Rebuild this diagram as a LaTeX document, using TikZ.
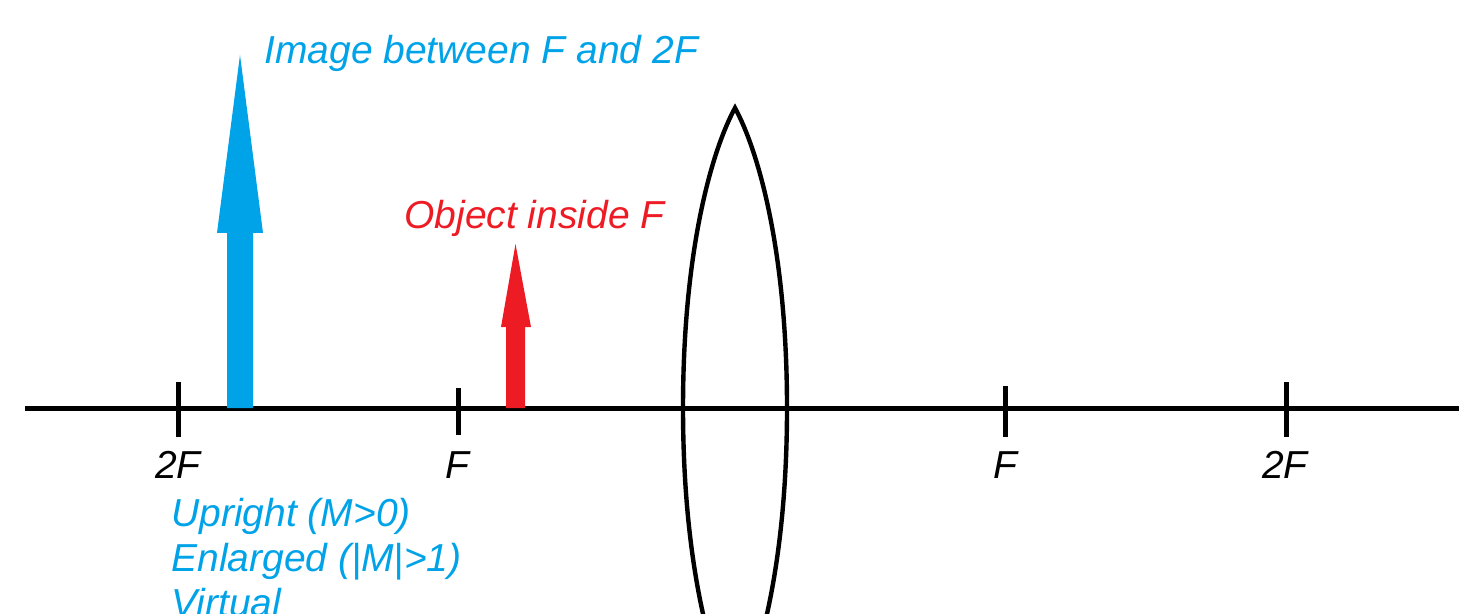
\documentclass[tikz,border=0pt]{standalone}
\usepackage{fontspec}
\setmainfont{Liberation Sans}
\definecolor{pblue}{RGB}{0,162,232}
\definecolor{pred}{RGB}{237,28,36}
\begin{document}
\begin{tikzpicture}[x=0.5pt,y=-0.5pt,
  txt/.style={inner sep=0pt,font=\fontsize{19.5pt}{22.5pt}\selectfont\itshape},
  tick/.style={line width=2.5pt,draw=black},
  axisline/.style={line width=2.5pt,draw=black},
  lensline/.style={line width=2.2pt,draw=black},
  fatarrow/.style={draw=none}]
\useasboundingbox (0,0) rectangle (1459,614);
\clip (0,0) rectangle (1459,614);
% axis
\coordinate (axL) at (25,408);
\coordinate (axR) at (1462,408);
\draw[axisline] (axL) -- (axR);
% ticks
\coordinate (t1a) at (178,382); \coordinate (t1b) at (178,437);
\coordinate (t2a) at (458,388); \coordinate (t2b) at (458,435);
\coordinate (t3a) at (1005,386); \coordinate (t3b) at (1005,437);
\coordinate (t4a) at (1286,382); \coordinate (t4b) at (1286,437);
\draw[tick] (t1a) -- (t1b);
\draw[tick] (t2a) -- (t2b);
\draw[tick] (t3a) -- (t3b);
\draw[tick] (t4a) -- (t4b);
% lens
\coordinate (ltop) at (735,108);
\coordinate (lbot) at (735,708);
\draw[lensline] (ltop) .. controls (712,150) and (683,250) .. (683,408)
  .. controls (683,566) and (712,666) .. (lbot)
  .. controls (758,666) and (787,566) .. (787,408)
  .. controls (787,250) and (758,150) .. (ltop) -- cycle;
% image arrow (blue)
\fill[pblue,fatarrow] (227,408) -- (227,233) -- (217,233) -- (240,55) -- (263,233) -- (253,233) -- (253,408) -- cycle;
% object arrow (red)
\fill[pred,fatarrow] (506,408) -- (506,327) -- (501,327) -- (515.5,244) -- (531,327) -- (525,327) -- (525,408) -- cycle;
% texts
\node[txt,text=pblue,anchor=base west] (imgtxt) at (264,64) {Image between F and 2F};
\node[txt,text=pred,anchor=base west] (objtxt) at (404,229) {Object inside F};
\node[txt,anchor=base] (l1) at (178,478) {2F};
\node[txt,anchor=base] (l2) at (457,478) {F};
\node[txt,anchor=base] (l3) at (1005,478) {F};
\node[txt,anchor=base] (l4) at (1285,478) {2F};
\node[txt,text=pblue,anchor=base west] (u1) at (171,526) {Upright (M>0)};
\node[txt,text=pblue,anchor=base west] (u2) at (171,571) {Enlarged (|M|>1)};
\node[txt,text=pblue,anchor=base west] (u3) at (171,616) {Virtual};
\end{tikzpicture}
\end{document}
